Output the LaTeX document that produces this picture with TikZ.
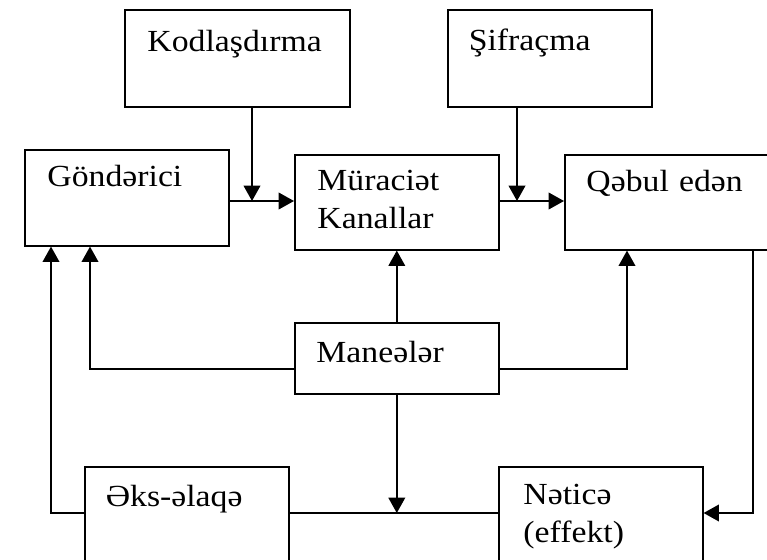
\documentclass[tikz,border=0pt]{standalone}
\usepackage{fontspec}
\setmainfont{Liberation Serif}[FakeStretch=1.1]
\usepackage{tikz}
\usetikzlibrary{arrows.meta}
\tikzstyle{arrow} = [line width=1.2pt,-{Triangle[width=12.5pt,length=11.5pt]}]
\tikzstyle{line} = [line width=1.2pt]
\tikzstyle{blok} = [draw,line width=1.2pt,anchor=north west,align=left,inner ysep=0pt,inner xsep=16.5pt,text width=120pt,text height=28.5pt,text depth=43.5pt,font=\fontsize{23}{28.5}\selectfont]

\begin{document}
\begin{tikzpicture}[x=0.75pt,y=-0.75pt]
	\clip (0,0) rectangle (767,560);

	\node (kod) at (124,9) [blok,inner xsep=17pt,text width=134.75pt,text height=31.3pt,text depth=41.5pt] {Kodlaşdırma};
	\node (sifr) at (447,9) [blok,inner xsep=15.75pt,text width=121.5pt,text height=30.75pt,text depth=42pt] {Şifraçma};
	\node (gond) at (24,149) [blok,inner xsep=17pt,text width=119pt,text height=27.75pt,text depth=44.25pt] {Göndərici};
	\node (mur) at (294,154) [blok,inner xsep=17pt,text width=119pt,text height=27pt,text depth=44.25pt] {Müraciət\\Kanallar};
	\node (qebul) at (564,154) [blok,inner xsep=16.25pt,text width=120.5pt,text height=27.75pt,text depth=43.5pt] {Qəbul edən};
	\node (man) at (294,322) [blok,inner xsep=16.25pt,text width=120.5pt,text height=29.8pt,text depth=23.5pt] {Maneələr};
	\node (eks) at (84,466) [blok,inner xsep=15.75pt,text width=121.5pt,text height=30pt,text depth=42pt] {Əks-əlaqə};
	\node (netice) at (498,466) [blok,inner xsep=18.5pt,text width=116pt] {Nəticə\\(effekt)};

	\coordinate (j1) at (252,201);
	\coordinate (j2) at (517,201);
	\coordinate (m1) at (90,369);
	\coordinate (m2) at (627,369);
	\coordinate (j3) at (397,513);
	\coordinate (f1) at (51,513);
	\coordinate (q1) at (753,513);

	\draw [arrow] (gond.east |- j1) -- (mur.west |- j1);
	\draw [arrow] (kod.south -| j1) -- (j1);
	\draw [arrow] (mur.east |- j2) -- (qebul.west |- j2);
	\draw [arrow] (sifr.south -| j2) -- (j2);

	\draw [arrow] (man.north) -- (mur.south);
	\draw [arrow] (man.west |- m1) -| (gond.south -| m1);
	\draw [arrow] (man.east |- m2) -| (qebul.south -| m2);
	\draw [arrow] (man.south) -- (man.south |- j3);

	\draw [line] (eks.east |- j3) -- (netice.west |- j3);
	\draw [arrow] (eks.west |- j3) -| (gond.south -| f1);
	\draw [arrow] (qebul.south -| q1) |- (netice.east |- q1);
\end{tikzpicture}
\end{document}
